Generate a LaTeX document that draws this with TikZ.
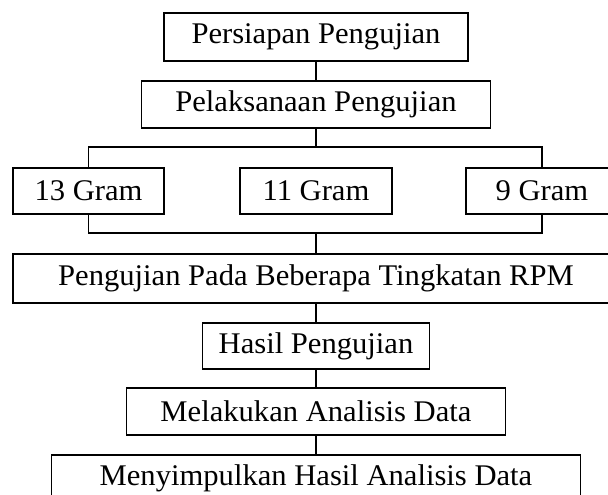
\documentclass[tikz,border=0pt]{standalone}
\usepackage{fontspec}
\setmainfont{Liberation Serif}[FakeStretch=1.02]
\begin{document}
\begin{tikzpicture}[x=1pt,y=-1pt,
  stepbox/.style={draw=black,line width=1.8pt,inner sep=0pt,minimum height=47pt,
    font=\fontsize{30}{32}\selectfont,text=black},
  conn/.style={draw=black,line width=1.8pt}]
\clip (0,0) rectangle (608,495);
\fill[white] (0,0) rectangle (608,495);
\node[stepbox,minimum width=304pt,minimum height=48pt] (p1) at (316,37) {Persiapan Pengujian};
\node[stepbox,minimum width=349pt] (p2) at (316,104.5) {Pelaksanaan Pengujian};
\node[stepbox,minimum width=151pt,minimum height=46pt] (g13) at (88.5,191) {13 Gram};
\node[stepbox,minimum width=152pt,minimum height=46pt] (g11) at (316,191) {11 Gram};
\node[stepbox,minimum width=152pt,minimum height=46pt] (g9) at (542,191) {9 Gram};
\node[stepbox,minimum width=606pt,minimum height=49pt] (rpm) at (316,278.5) {Pengujian Pada Beberapa Tingkatan RPM};
\node[stepbox,minimum width=227pt,minimum height=46pt] (hasil) at (316,346) {Hasil Pengujian};
\node[stepbox,minimum width=379pt] (mela) at (316,411.5) {Melakukan Analisis Data};
\node[stepbox,minimum width=529pt] (meny) at (316,478.5) {Menyimpulkan Hasil Analisis Data};
\coordinate (br) at (316,147);
\coordinate (mg) at (316,233);
\draw[conn] (p1.south) -- (p2.north);
\draw[conn] (p2.south) -- (br);
\draw[conn] (g13.north) |- (br) -| (g9.north);
\draw[conn] (g13.south) |- (mg) -| (g9.south);
\draw[conn] (mg) -- (rpm.north);
\draw[conn] (rpm.south) -- (hasil.north);
\draw[conn] (hasil.south) -- (mela.north);
\draw[conn] (mela.south) -- (meny.north);
\end{tikzpicture}
\end{document}
